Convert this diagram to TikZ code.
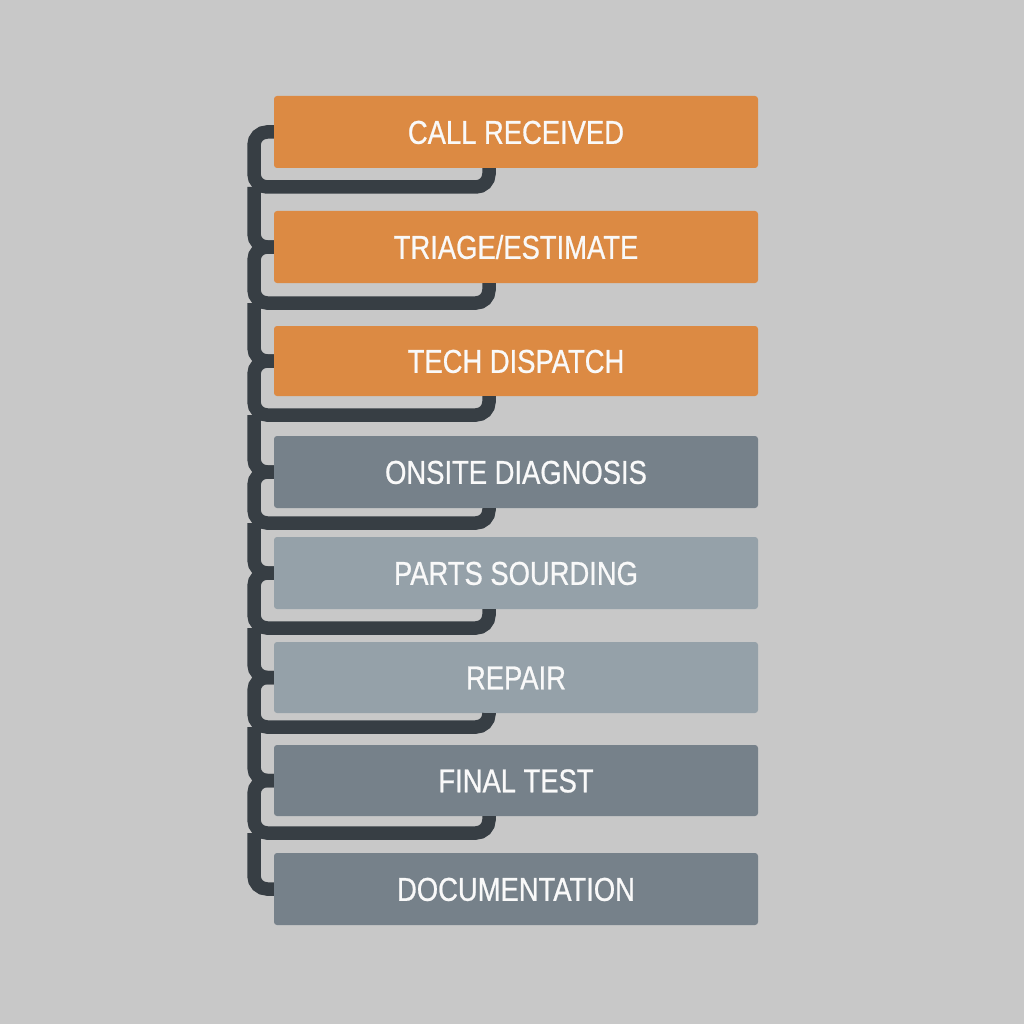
\documentclass[tikz,border=0pt]{standalone}
\usepackage{fontspec}
\setmainfont{Liberation Sans}[FakeStretch=0.83, FakeBold=0.7]
\begin{document}
\begin{tikzpicture}[x=1pt,y=-1pt,
  stepbox/.style={rectangle, rounded corners=3pt, minimum width=484pt, minimum height=72pt,
    inner sep=0pt, text=white!95!gray, font=\fontsize{33}{33}\selectfont,
    text height=23.6pt, text depth=0pt},
  orangebox/.style={stepbox, fill=boxorange},
  darkbox/.style={stepbox, fill=boxdark},
  lightbox/.style={stepbox, fill=boxlight},
  conn/.style={draw=linecol, line width=13.5pt, rounded corners=13pt}]
\definecolor{bg}{HTML}{C8C8C8}
\definecolor{boxorange}{HTML}{DC8A43}
\definecolor{boxdark}{HTML}{76818A}
\definecolor{boxlight}{HTML}{95A1A9}
\definecolor{linecol}{HTML}{373E44}
\fill[bg] (0,0) rectangle (1024,1024);
\useasboundingbox (0,0) rectangle (1024,1024);
% boxes
\node[orangebox, minimum height=72pt] (b1) at (516,132) {CALL RECEIVED};
\node[orangebox, minimum height=72pt] (b2) at (516,247) {TRIAGE/ESTIMATE};
\node[orangebox, minimum height=70pt] (b3) at (516,361) {TECH DISPATCH};
\node[darkbox,   minimum height=72pt] (b4) at (516,472) {ONSITE DIAGNOSIS};
\node[lightbox,  minimum height=72pt] (b5) at (516,573) {PARTS SOURDING};
\node[lightbox,  minimum height=71pt] (b6) at (516,677.5) {REPAIR};
\node[darkbox,   minimum height=71pt] (b7) at (516,780.5) {FINAL TEST};
\node[darkbox,   minimum height=72pt] (b8) at (516,889) {DOCUMENTATION};
% hook coordinates
\coordinate (hx) at (489,0);
\coordinate (h1) at (254,187);
\coordinate (h2) at (254,303);
\coordinate (h3) at (254,415);
\coordinate (h4) at (254,523);
\coordinate (h5) at (254,628);
\coordinate (h6) at (254,727);
\coordinate (h7) at (254,833);
% connectors
\foreach \i/\j in {1/2,2/3,3/4,4/5,5/6,6/7,7/8}{
  \draw[conn] (b\i.west) -| (h\i) -| (b\i.south -| hx);
  \draw[conn] (h\i) |- (b\j.west);
}
\end{tikzpicture}
\end{document}
